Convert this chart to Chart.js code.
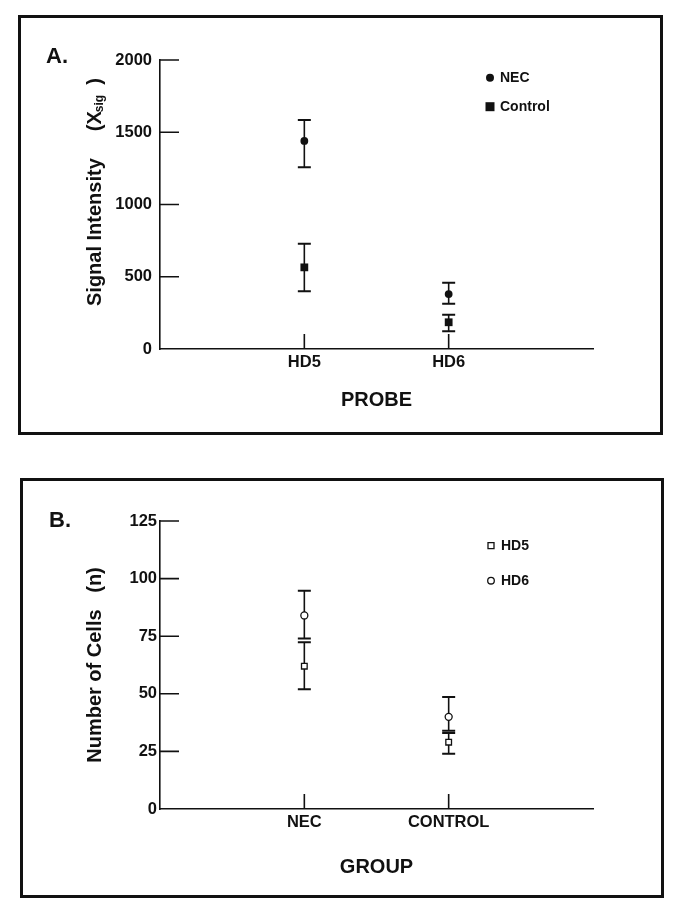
<!DOCTYPE html>
<html>
<head>
<meta charset="utf-8">
<script src="https://cdn.jsdelivr.net/npm/chart.js@4.4.0/dist/chart.umd.min.js"></script>
<style>
  body { margin: 0; background: #fff; }
  #page { position: relative; width: 685px; height: 919px; overflow: hidden; }
  .box { position: absolute; border: 3px solid #111; box-sizing: border-box; }
  canvas { position: absolute; left: 0; }
</style>
</head>
<body>
<div id="page">
  <div class="box" style="left:18px;top:15px;width:645px;height:420px"></div>
  <div class="box" style="left:20px;top:478px;width:644px;height:420px"></div>
  <canvas id="chartA" width="685" height="460" style="top:0"></canvas>
  <canvas id="chartB" width="685" height="459" style="top:460px"></canvas>
</div>
<script>
// panel A: signal intensity by probe
const probes = ["HD5", "HD6"];
const signalTicks = [0, 500, 1000, 1500, 2000];
const necSignal = [1440, 380];
const necSignalLow = [1258, 313];
const necSignalHigh = [1585, 458];
const controlSignal = [565, 185];
const controlSignalLow = [400, 122];
const controlSignalHigh = [728, 237];

// panel B: number of cells by group
const groups = ["NEC", "CONTROL"];
const cellTicks = [0, 25, 50, 75, 100, 125];
const hd5Cells = [62, 29];
const hd5CellsLow = [52, 24];
const hd5CellsHigh = [72.4, 33];
const hd6Cells = [84, 40];
const hd6CellsLow = [74, 34];
const hd6CellsHigh = [94.7, 48.6];

const FONT = "'Liberation Sans', Arial, Helvetica, sans-serif";
const INK = "#111";
Chart.defaults.font.family = FONT;
Chart.defaults.color = INK;

const pts = vals => vals.map((v, i) => ({ x: i + 1, y: v }));

function drawMarker(ctx, style, x, y, size, fill) {
  ctx.beginPath();
  if (style === "circle") ctx.arc(x, y, size, 0, Math.PI * 2);
  else ctx.rect(x - size / 2, y - size / 2, size, size);
  if (fill === "#fff") {
    ctx.fillStyle = "#fff";
    ctx.fill();
    ctx.lineWidth = 1.3;
    ctx.strokeStyle = INK;
    ctx.stroke();
  } else {
    ctx.fillStyle = INK;
    ctx.fill();
  }
}

const errorBars = {
  id: "errorBars",
  beforeDatasetsDraw(chart) {
    const { ctx, scales: { x, y } } = chart;
    ctx.save();
    ctx.strokeStyle = INK;
    chart.data.datasets.forEach(ds => {
      ds.data.forEach((p, i) => {
        const px = x.getPixelForValue(p.x);
        const top = y.getPixelForValue(ds.errHigh[i]);
        const bot = y.getPixelForValue(ds.errLow[i]);
        ctx.lineWidth = 1.6;
        ctx.beginPath();
        ctx.moveTo(px, top);
        ctx.lineTo(px, bot);
        ctx.stroke();
        ctx.lineWidth = 2;
        ctx.beginPath();
        ctx.moveTo(px - 6.5, top); ctx.lineTo(px + 6.5, top);
        ctx.moveTo(px - 6.5, bot); ctx.lineTo(px + 6.5, bot);
        ctx.stroke();
      });
    });
    ctx.restore();
  }
};

// tick marks point into the plot
const innerTicks = {
  id: "innerTicks",
  afterDraw(chart) {
    const { ctx, chartArea: a, scales: { x, y } } = chart;
    ctx.save();
    ctx.strokeStyle = INK;
    ctx.lineWidth = 1.6;
    ctx.beginPath();
    y.ticks.forEach(t => {
      if (t.value === y.min) return;
      const py = y.getPixelForValue(t.value);
      ctx.moveTo(a.left, py);
      ctx.lineTo(a.left + 19, py);
    });
    x.ticks.forEach(t => {
      const px = x.getPixelForValue(t.value);
      ctx.moveTo(px, a.bottom);
      ctx.lineTo(px, a.bottom - 15);
    });
    ctx.stroke();
    ctx.restore();
  }
};

const keyAndLetter = {
  id: "keyAndLetter",
  afterDraw(chart, args, o) {
    const ctx = chart.ctx;
    ctx.save();
    ctx.fillStyle = INK;
    ctx.font = `bold 22px ${FONT}`;
    ctx.textBaseline = "alphabetic";
    ctx.fillText(o.letter, o.letterX, o.letterY);
    chart.data.datasets.forEach((ds, i) => {
      const y = o.keyY + i * o.keyGap;
      drawMarker(ctx, ds.pointStyle, o.keyX, y, o.keySize[i], ds.pointBackgroundColor);
      ctx.fillStyle = INK;
      ctx.font = `bold 14px ${FONT}`;
      ctx.textBaseline = "middle";
      ctx.fillText(ds.label, o.keyX + 10, y + 0.5);
    });
    ctx.restore();
  }
};

// y title of panel A has a subscript, drawn by hand
const signalTitle = {
  id: "signalTitle",
  afterDraw(chart) {
    const ctx = chart.ctx;
    ctx.save();
    ctx.translate(95, 306);
    ctx.rotate(-Math.PI / 2);
    ctx.fillStyle = INK;
    ctx.textBaseline = "middle";
    ctx.font = `bold 20px ${FONT}`;
    ctx.fillText("Signal Intensity", 0, 0);
    let x = ctx.measureText("Signal Intensity").width + 27;
    ctx.fillText("(X", x, 0);
    x += ctx.measureText("(X").width - 1;
    ctx.font = `bold 12px ${FONT}`;
    ctx.fillText("sig", x, 5);
    x += ctx.measureText("sig").width + 10;
    ctx.font = `bold 20px ${FONT}`;
    ctx.fillText(")", x, 0);
    ctx.restore();
  }
};

function xAxis(labels, title, h) {
  return {
    type: "linear",
    min: 0,
    max: labels.length + 1,
    afterBuildTicks: s => { s.ticks = labels.map((_, i) => ({ value: i + 1 })); },
    afterFit: s => { s.height = h; },
    grid: { display: false, drawTicks: false },
    border: { color: INK, width: 1.6 },
    ticks: {
      callback: v => labels[v - 1],
      font: { size: 16.5, weight: "bold" },
      color: INK,
      padding: 4,
      autoSkip: false,
      maxRotation: 0
    },
    title: {
      display: true,
      text: title,
      font: { size: 20, weight: "bold" },
      color: INK,
      padding: { top: 0, bottom: 0 }
    }
  };
}

function yAxis(ticks, pad, title) {
  return {
    min: ticks[0],
    max: ticks[ticks.length - 1],
    afterBuildTicks: s => { s.ticks = ticks.map(v => ({ value: v })); },
    afterFit: s => { s.width = 140; },
    grid: { display: false, drawTicks: false },
    border: { color: INK, width: 1.6 },
    ticks: {
      callback: v => String(v),
      font: { size: 16.5, weight: "bold" },
      color: INK,
      padding: pad
    },
    title: title ? {
      display: true,
      text: title,
      font: { size: 20, weight: "bold" },
      color: INK,
      padding: { top: 63, bottom: 0 }
    } : { display: false }
  };
}

new Chart(document.getElementById("chartA"), {
  type: "scatter",
  data: {
    datasets: [
      {
        label: "NEC",
        data: pts(necSignal),
        errLow: necSignalLow,
        errHigh: necSignalHigh,
        pointStyle: "circle",
        pointRadius: 3.9,
        pointBackgroundColor: INK,
        pointBorderColor: INK,
        pointBorderWidth: 0
      },
      {
        label: "Control",
        data: pts(controlSignal),
        errLow: controlSignalLow,
        errHigh: controlSignalHigh,
        pointStyle: "rect",
        pointRadius: 5.5,
        pointBackgroundColor: INK,
        pointBorderColor: INK,
        pointBorderWidth: 0
      }
    ]
  },
  options: {
    responsive: false,
    animation: false,
    events: [],
    layout: { padding: { left: 20, right: 92, top: 60, bottom: 48 } },
    scales: {
      x: xAxis(probes, "PROBE", 63),
      y: yAxis(signalTicks, 8, null)
    },
    plugins: {
      legend: { display: false },
      tooltip: { enabled: false },
      keyAndLetter: { letter: "A.", letterX: 46, letterY: 63, keyX: 490, keyY: 77.7, keyGap: 29, keySize: [4, 9] }
    }
  },
  plugins: [errorBars, innerTicks, keyAndLetter, signalTitle]
});

new Chart(document.getElementById("chartB"), {
  type: "scatter",
  data: {
    datasets: [
      {
        label: "HD5",
        data: pts(hd5Cells),
        errLow: hd5CellsLow,
        errHigh: hd5CellsHigh,
        pointStyle: "rect",
        pointRadius: 4,
        pointBackgroundColor: "#fff",
        pointBorderColor: INK,
        pointBorderWidth: 1.3
      },
      {
        label: "HD6",
        data: pts(hd6Cells),
        errLow: hd6CellsLow,
        errHigh: hd6CellsHigh,
        pointStyle: "circle",
        pointRadius: 3.5,
        pointBackgroundColor: "#fff",
        pointBorderColor: INK,
        pointBorderWidth: 1.3
      }
    ]
  },
  options: {
    responsive: false,
    animation: false,
    events: [],
    layout: { padding: { left: 20, right: 92, top: 61, bottom: 40 } },
    scales: {
      x: xAxis(groups, "GROUP", 70),
      y: yAxis(cellTicks, 3, "Number of Cells   (n)")
    },
    plugins: {
      legend: { display: false },
      tooltip: { enabled: false },
      keyAndLetter: { letter: "B.", letterX: 49, letterY: 66.7, keyX: 491, keyY: 85.7, keyGap: 35, keySize: [6, 3.3] }
    }
  },
  plugins: [errorBars, innerTicks, keyAndLetter]
});
</script>
</body>
</html>
